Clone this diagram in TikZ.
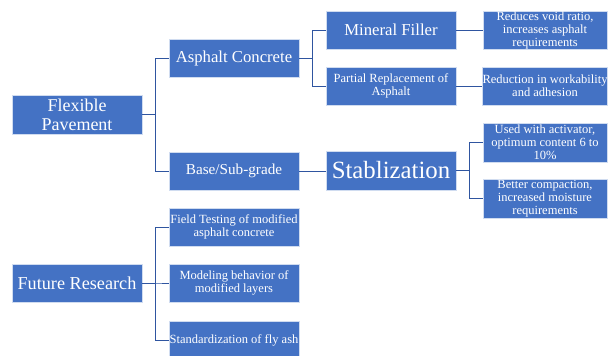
\documentclass[tikz,border=0pt]{standalone}
\usepackage{fontspec}
\setmainfont{Liberation Serif}
\usetikzlibrary{positioning,calc}
\definecolor{boxblue}{RGB}{68,114,196}
\definecolor{linkblue}{RGB}{47,85,160}

\begin{document}
\begin{tikzpicture}[x=1pt,y=-1pt,
		box/.style={fill=boxblue, draw=white!75!boxblue, line width=0.6pt, text=white, inner sep=0pt,
			minimum width=130pt, minimum height=38pt, align=center, font=\fontsize{12.5}{13}\selectfont},
		leafbox/.style={box, minimum width=124pt},
		link/.style={draw=linkblue, line width=0.8pt}]
			\useasboundingbox (0,0) rectangle (608,356);
			
			% Flexible pavement branch
			\node[box, minimum height=39pt, font=\fontsize{18}{18.7}\selectfont] (flex) at (77,114.5) {Flexible\\Pavement};
			\node[box, font=\fontsize{16.7}{17}\selectfont] (asph) at (234,58) {Asphalt Concrete};
			\node[box, font=\fontsize{15.2}{16}\selectfont] (base) at (234,171) {Base/Sub-grade};
			
			% Asphalt concrete uses
			\node[box, font=\fontsize{16.7}{17}\selectfont] (miner) at (391,30) {Mineral Filler};
			\node[box] (partial) at (391,86) {Partial Replacement of\\Asphalt};
			\node[leafbox] (voids) at (545,30) {Reduces void ratio,\\increases asphalt\\requirements};
			\node[leafbox] (workab) at (545,86) {Reduction in workability\\and adhesion};
			
			% Base/sub-grade
			\node[box, minimum height=39pt, font=\fontsize{24.8}{25}\selectfont] (stab) at (391,170.5) {Stablization};
			\node[leafbox, minimum height=39pt] (activ) at (545,142.5) {Used with activator,\\optimum content 6 to\\10\%};
			\node[leafbox, minimum height=39pt] (compact) at (545,198.5) {Better compaction,\\increased moisture\\requirements};
			
			% Future research branch
			\node[box, font=\fontsize{18.2}{19}\selectfont] (future) at (77,283) {Future Research};
			\node[box] (field) at (234,227) {Field Testing of modified\\asphalt concrete};
			\node[box] (model) at (234,283) {Modeling behavior of\\modified layers};
			\node[box] (stand) at (234,340) {Standardization of fly ash};
			
			% Connectors
			\draw[link] (flex.east) -- ++(13,0) |- (asph.west);
			\draw[link] (flex.east) -- ++(13,0) |- (base.west);
			\draw[link] (asph.east) -- ++(13,0) |- (miner.west);
			\draw[link] (asph.east) -- ++(13,0) |- (partial.west);
			\draw[link] (miner.east) -- (voids.west);
			\draw[link] (partial.east) -- (workab.west);
			\draw[link] (base.east) -- (base.east -| stab.west);
			\draw[link] (stab.east) -- ++(13,0) |- (activ.west);
			\draw[link] (stab.east) -- ++(13,0) |- (compact.west);
			\draw[link] (future.east) -- ++(13,0) |- (field.west);
			\draw[link] (future.east) -- ++(13,0) |- (model.west);
			\draw[link] (future.east) -- ++(13,0) |- (stand.west);
		\end{tikzpicture}
\end{document}
